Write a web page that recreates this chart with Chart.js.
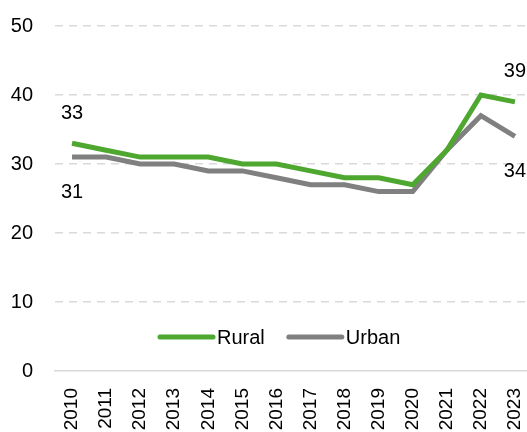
<!DOCTYPE html>
<html>
<head>
<meta charset="utf-8">
<script src="https://cdn.jsdelivr.net/npm/chart.js@4"></script>
<style>
    html, body { margin: 0; padding: 0; background: #fff; overflow: hidden; }
    #wrap { width: 532px; height: 432px; }
</style>
</head>
<body>
<div id="wrap"><canvas id="trendChart" width="532" height="432"></canvas></div>
<script>
const years = ["2010", "2011", "2012", "2013", "2014", "2015", "2016", "2017", "2018", "2019", "2020", "2021", "2022", "2023"];
const rural = [33, 32, 31, 31, 31, 30, 30, 29, 28, 28, 27, 32, 40, 39];
const urban = [31, 31, 30, 30, 29, 29, 28, 27, 27, 26, 26, 32, 37, 34];
const yTicks = [0, 10, 20, 30, 40, 50];

const FONT = "'Liberation Sans', Arial, Helvetica, sans-serif";
const GREEN = "#4ea72e";
const GREY = "#808080";

// first and last values of each series, written next to the line ends
const endLabels = {
    id: "endLabels",
    afterDatasetsDraw(chart) {
        const ctx = chart.ctx;
        const x = chart.scales.x, y = chart.scales.y;
        const last = years.length - 1;
        ctx.save();
        ctx.font = "20px " + FONT;
        ctx.fillStyle = "#000";
        ctx.textAlign = "center";
        ctx.textBaseline = "middle";
        [0, last].forEach(i => {
            ctx.fillText(String(rural[i]), x.getPixelForValue(i), y.getPixelForValue(rural[i]) - 30);
            ctx.fillText(String(urban[i]), x.getPixelForValue(i), y.getPixelForValue(urban[i]) + 35);
        });
        ctx.restore();
    }
};

// legend sitting inside the plot, just above the zero line
const innerLegend = {
    id: "innerLegend",
    afterDraw(chart) {
        const ctx = chart.ctx;
        const yPos = 337;
        let xPos = 160;
        ctx.save();
        ctx.font = "20px " + FONT;
        ctx.textBaseline = "middle";
        chart.data.datasets.forEach(ds => {
            ctx.strokeStyle = ds.borderColor;
            ctx.lineWidth = 5;
            ctx.lineCap = "round";
            ctx.beginPath();
            ctx.moveTo(xPos, yPos);
            ctx.lineTo(xPos + 53, yPos);
            ctx.stroke();
            ctx.fillStyle = "#000";
            ctx.fillText(ds.label, xPos + 57, yPos + 1);
            xPos += 57 + ctx.measureText(ds.label).width + 24;
        });
        ctx.restore();
    }
};

new Chart(document.getElementById("trendChart"), {
    type: "line",
    data: {
        labels: years,
        datasets: [
            { label: "Rural", data: rural, borderColor: GREEN, backgroundColor: GREEN },
            { label: "Urban", data: urban, borderColor: GREY, backgroundColor: GREY }
        ]
    },
    options: {
        responsive: false,
        animation: false,
        layout: { padding: { top: 26, right: 0, left: 0, bottom: 0 } },
        elements: {
            line: { borderWidth: 5, tension: 0, borderCapStyle: "butt", borderJoinStyle: "miter" },
            point: { radius: 0, hoverRadius: 0 }
        },
        plugins: {
            legend: { display: false },
            tooltip: { enabled: false }
        },
        scales: {
            x: {
                offset: true,
                grid: { display: false, drawTicks: false },
                border: { display: true, color: "#d9d9d9", width: 1.5 },
                ticks: {
                    autoSkip: false,
                    minRotation: 90,
                    maxRotation: 90,
                    padding: 17,
                    color: "#000",
                    font: { family: FONT, size: 19 }
                },
                afterFit(scale) {
                    scale.height = 61;
                    scale.paddingLeft = 0;
                    scale.paddingRight = 0;
                }
            },
            y: {
                min: 0,
                max: 50,
                afterBuildTicks(scale) { scale.ticks = yTicks.map(v => ({ value: v })); },
                grid: {
                    color: ctx => ctx.tick.value === 0 ? "rgba(0,0,0,0)" : "#d9d9d9",
                    lineWidth: 1.5,
                    drawTicks: false
                },
                border: { display: false, dash: [8, 6] },
                ticks: {
                    padding: 22,
                    color: "#000",
                    font: { family: FONT, size: 20 }
                },
                afterFit(scale) {
                    scale.width = 55;
                    scale.paddingTop = 0;
                    scale.paddingBottom = 0;
                }
            }
        }
    },
    plugins: [endLabels, innerLegend]
});
</script>
</body>
</html>
